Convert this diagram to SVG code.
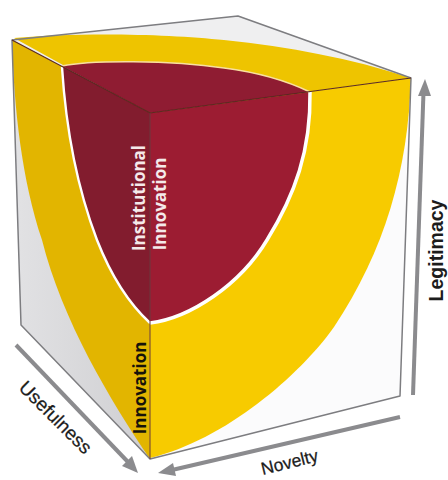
<svg xmlns="http://www.w3.org/2000/svg" width="448" height="480" viewBox="0 0 448 480">
<style>
.edge{fill:none;stroke:#7d7d80;stroke-width:1.5;stroke-linejoin:round}
.dark{fill:none;stroke:#5a2a22;stroke-width:1.2}
.arrow{fill:none;stroke:#8b8b8e;stroke-width:4}
.head{fill:#8b8b8e}
.sep{fill:none;stroke:#fff;stroke-width:3.5}
.lab{font-family:"Liberation Sans",Arial,sans-serif;fill:#1c1c1c}
.in{font-family:"Open Sans","Liberation Sans",sans-serif;font-weight:700;font-size:17px}
</style>
<defs>
<linearGradient id="lg" x1="0" x2="1" y1="0" y2="0"><stop offset="0" stop-color="#e2e2e4"/><stop offset="1" stop-color="#cfcfd2"/></linearGradient>
<filter id="soft" x="-5%" y="-5%" width="110%" height="110%"><feGaussianBlur stdDeviation="0.45"/></filter>
</defs>
<rect width="448" height="480" fill="#fff"/>
<g filter="url(#soft)">
<path d="M12 40L238 16L411 78L150 113Z" fill="#efeff0"/>
<path d="M12 40L150 113L150 459L21 325Z" fill="url(#lg)"/>
<path d="M150 113L411 78L400 396L150 459Z" fill="#fbfbfc"/>
<path d="M14 38C80 32 170 34 224 40C290 47 350 58 411 78L150 113Z" fill="#eec400"/>
<path d="M12 40L150 113L150 459C110 400 62 320 42 240C22 180 14 110 12 40Z" fill="#e2b505"/>
<path d="M150 113L411 78C408 170 385 250 334 327C300 375 225 440 150 458Z" fill="#f7cb00"/>
<path d="M62 66C90 60 170 60 224 68C255 72 285 80 310 92L150 113Z" fill="#8f1a30"/>
<path d="M62 66L150 113L150 323C125 300 108 268 97 240C78 190 66 130 62 66Z" fill="#821a2e"/>
<path d="M150 113L310 92C311 150 295 195 267 240C240 285 190 318 150 323Z" fill="#9c1b32"/>
<path class="sep" d="M310 92C311 150 295 195 267 240C240 285 190 318 150 323"/>
<path d="M62 67C66 130 78 190 97 240C108 268 125 300 150 323" fill="none" stroke="#fff" stroke-width="2.4"/>
<path d="M62 66C90 60 170 60 224 68C255 72 285 80 310 92" fill="none" stroke="#f8e0a0" stroke-width="1.4"/>
<path class="edge" d="M12 40L238 16L411 78L400 396L150 459L21 325Z"/>
<path class="dark" d="M12 40L150 113L411 78"/>
<path d="M150 113V459" stroke="#6a3b3c" stroke-width="1" fill="none"/>
</g>
<g id="connectors">
<path class="arrow" d="M413 395L423.500 92"/>
<path class="head" d="M425 79L431 96L418 96Z"/>
<path class="arrow" d="M400 417L172 470"/>
<path class="head" d="M158 473L173 463L176 476Z"/>
<path class="arrow" d="M16 345L128 462"/>
<path class="head" d="M138 473L122 466L132 456Z"/>
</g>
<text class="lab" font-size="19" stroke="#1c1c1c" stroke-width="0.25" transform="translate(51 422) rotate(45)" text-anchor="middle">Usefulness</text>
<text class="lab" font-size="17.500" stroke="#1c1c1c" stroke-width="0.25" transform="translate(291 468) rotate(-14)" text-anchor="middle">Novelty</text>
<text class="lab" font-size="19.500" font-weight="700" transform="translate(442.500 250.500) rotate(-90)" text-anchor="middle">Legitimacy</text>
<text class="in" fill="#f4e9ea" transform="translate(145 198) rotate(-90)" text-anchor="middle">Institutional</text>
<text class="in" fill="#f4e9ea" transform="translate(166 204) rotate(-90)" text-anchor="middle">Innovation</text>
<text class="in" fill="#16120a" transform="translate(146 388) rotate(-90)" text-anchor="middle">Innovation</text>
</svg>
